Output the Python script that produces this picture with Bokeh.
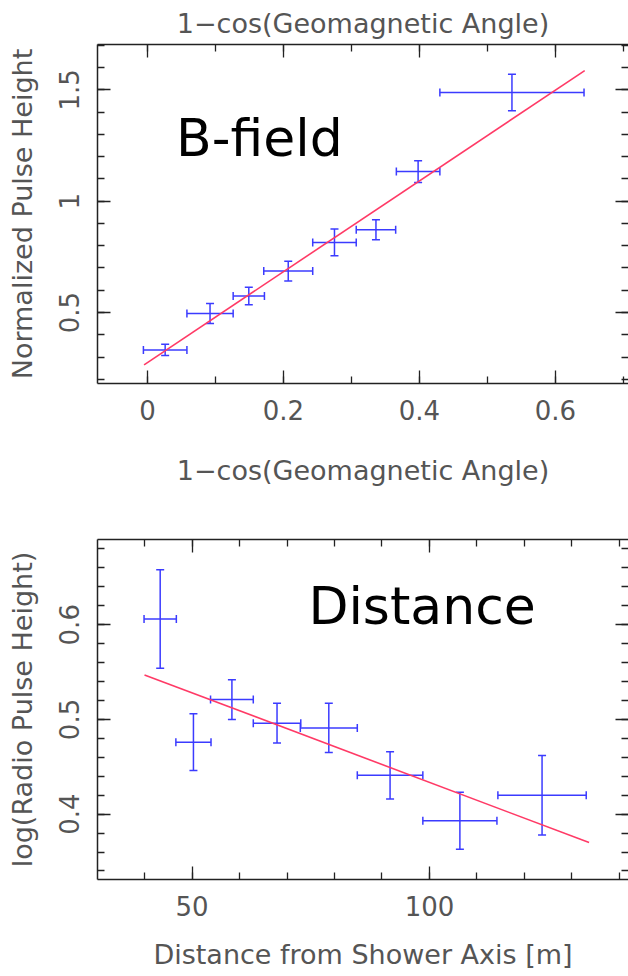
from bokeh.plotting import figure
from bokeh.models import (Range1d, SingleIntervalTicker, LinearAxis, Whisker, TeeHead,
                          ColumnDataSource, Label, CustomJSTickFormatter, CustomLabelingPolicy)
from bokeh.layouts import column
from bokeh.embed import file_html
from bokeh.resources import INLINE

# ---------------- data ----------------
# Panel 1: B-field
b_x = [0.026, 0.092, 0.149, 0.207, 0.275, 0.336, 0.398, 0.536]
b_x_err = [0.032, 0.034, 0.023, 0.036, 0.032, 0.029, 0.032, 0.106]
b_y = [0.332, 0.495, 0.574, 0.686, 0.815, 0.872, 1.133, 1.488]
b_y_err = [0.025, 0.045, 0.039, 0.044, 0.060, 0.045, 0.049, 0.082]
b_fit_x = [-0.005, 0.643]
b_fit_y = [0.265, 1.587]

# Panel 2: Distance
d_x = [43.3, 50.3, 58.4, 67.9, 78.8, 91.7, 106.4, 123.7]
d_x_err = [3.4, 3.7, 4.5, 5.0, 6.0, 6.9, 7.8, 9.3]
d_y = [0.606, 0.476, 0.521, 0.496, 0.491, 0.441, 0.393, 0.420]
d_y_err = [0.052, 0.030, 0.021, 0.021, 0.026, 0.025, 0.030, 0.042]
d_fit_x = [40.0, 133.6]
d_fit_y = [0.547, 0.370]

FONT = "DejaVu Sans"
TXT = "#555555"
AX = "#222222"
ERR = "#3b3bff"
FIT = "#ff3a66"

FMT = "return String(parseFloat(tick.toFixed(4)));"
HIDE = """
try { for (let i = 0; i < indices.size; i++) { indices.unset(i) } } catch (e) {}
return indices
"""


def style_axis(ax, show_labels=True):
    ax.axis_line_color = AX
    ax.axis_line_width = 1.5
    ax.major_tick_line_color = AX
    ax.minor_tick_line_color = AX
    ax.major_tick_line_width = 1.3
    ax.minor_tick_line_width = 1.3
    ax.major_tick_in = 13
    ax.major_tick_out = 0
    ax.minor_tick_in = 7
    ax.minor_tick_out = 0
    ax.major_label_text_font = FONT
    ax.major_label_text_color = TXT
    ax.axis_label_text_font = FONT
    ax.axis_label_text_font_style = "normal"
    ax.axis_label_text_color = TXT
    ax.axis_label_text_font_size = "27px"
    ax.formatter = CustomJSTickFormatter(code=FMT)
    if show_labels:
        ax.major_label_text_font_size = "26px"
    else:
        ax.major_label_text_font_size = "0px"
        ax.major_label_standoff = 0
        ax.major_label_policy = CustomLabelingPolicy(code=HIDE)


def panel(xs, xe, ys, ye, fx, fy, xr, yr, xint, xminor, yint, yminor,
          xlabel, ylabel, toplabel, height, mbt, mbb, xlab_standoff,
          note, note_x, note_y):
    p = figure(width=628, height=height, output_backend="svg", toolbar_location=None,
               x_range=Range1d(*xr), y_range=Range1d(*yr),
               min_border_left=97, min_border_right=0,
               min_border_top=mbt, min_border_bottom=mbb)
    p.outline_line_color = None
    p.xgrid.visible = False
    p.ygrid.visible = False
    p.background_fill_color = "white"
    p.border_fill_color = "white"

    xt = SingleIntervalTicker(interval=xint, num_minor_ticks=xminor)
    yt = SingleIntervalTicker(interval=yint, num_minor_ticks=yminor)

    p.xaxis.ticker = xt
    p.yaxis.ticker = yt
    for ax in p.xaxis:
        style_axis(ax)
        ax.major_label_standoff = 16
        ax.axis_label = xlabel
        ax.axis_label_standoff = xlab_standoff
    for ax in p.yaxis:
        style_axis(ax)
        ax.major_label_standoff = 18
        ax.major_label_orientation = "vertical"
        ax.axis_label = ylabel
        ax.axis_label_standoff = 19

    top = LinearAxis(ticker=xt)
    style_axis(top, show_labels=False)
    if toplabel:
        top.axis_label = toplabel
        top.axis_label_standoff = 6
    p.add_layout(top, "above")

    right = LinearAxis(ticker=yt)
    style_axis(right, show_labels=False)
    right.axis_line_color = None
    p.add_layout(right, "right")

    src = ColumnDataSource(dict(
        x=xs, y=ys,
        xl=[a - b for a, b in zip(xs, xe)], xu=[a + b for a, b in zip(xs, xe)],
        yl=[a - b for a, b in zip(ys, ye)], yu=[a + b for a, b in zip(ys, ye)],
    ))

    def head():
        return TeeHead(size=8, line_color=ERR, line_width=1.5)

    p.add_layout(Whisker(source=src, base="y", lower="xl", upper="xu", dimension="width",
                         line_color=ERR, line_width=1.5, lower_head=head(), upper_head=head()))
    p.add_layout(Whisker(source=src, base="x", lower="yl", upper="yu", dimension="height",
                         line_color=ERR, line_width=1.5, lower_head=head(), upper_head=head()))

    p.line(fx, fy, line_color=FIT, line_width=1.6)

    p.add_layout(Label(x=note_x, y=note_y, text=note, text_font=FONT, text_font_size="52px",
                       text_color="black", text_align="left", text_baseline="alphabetic"))
    return p


p1 = panel(b_x, b_x_err, b_y, b_y_err, b_fit_x, b_fit_y,
           (-0.0735, 0.7074), (0.181, 1.704), 0.2, 2, 0.5, 5,
           "1\u2212cos(Geomagnetic Angle)", "Normalized Pulse Height",
           "1\u2212cos(Geomagnetic Angle)", 500, 44, 117, 32, "B-field", 0.042, 1.282)

p2 = panel(d_x, d_x_err, d_y, d_y_err, d_fit_x, d_fit_y,
           (30.1, 141.9), (0.331, 0.69), 50, 5, 0.1, 5,
           "Distance from Shower Axis [m]", "log(Radio Pulse Height)",
           None, 476, 39, 97, 20, "Distance", 74.5, 0.620)

layout = column(p1, p2, spacing=0)
open("out.html", "w").write(file_html(layout, INLINE))
